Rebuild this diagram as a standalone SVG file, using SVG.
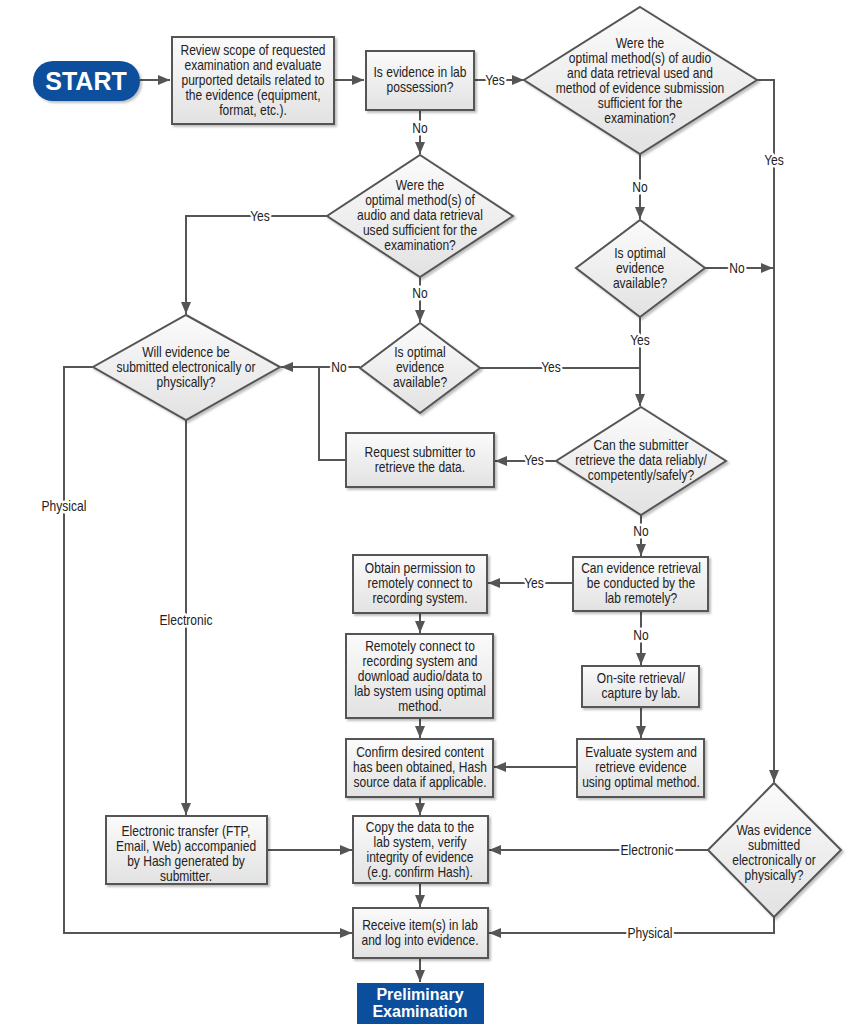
<svg xmlns="http://www.w3.org/2000/svg" width="867" height="1024" viewBox="0 0 867 1024">
<defs>
<linearGradient id="g" x1="0" y1="0" x2="0" y2="1">
<stop offset="0" stop-color="#fbfbfb"/>
<stop offset="1" stop-color="#e2e2e2"/>
</linearGradient>
<filter id="sh" x="-10%" y="-10%" width="130%" height="130%">
<feDropShadow dx="2" dy="2" stdDeviation="1.2" flood-color="#000" flood-opacity="0.25"/>
</filter>
<marker id="ah" viewBox="0 0 12 10" refX="12" refY="5" markerWidth="12" markerHeight="10" orient="auto" markerUnits="userSpaceOnUse">
<path d="M0,0 L12,5 L0,10 z" fill="#555"/>
</marker>
</defs>
<style>
.n{fill:url(#g);stroke:#555;stroke-width:2;filter:url(#sh)}
.t{font-family:"Liberation Sans",Arial,sans-serif;font-size:14px;fill:#222;text-anchor:middle}
.l{font-family:"Liberation Sans",Arial,sans-serif;font-size:14px;fill:#222;text-anchor:middle;stroke:#fff;stroke-width:5;paint-order:stroke;stroke-linejoin:round}
.c{fill:none;stroke:#555;stroke-width:2}
.a{marker-end:url(#ah)}
.b{fill:#0b4f9c;filter:url(#sh)}
.w{font-family:"Liberation Sans",Arial,sans-serif;font-weight:bold;fill:#fff;text-anchor:middle}
</style>
<rect width="867" height="1024" fill="#fff"/>

<g id="connectors">
<path class="c a" d="M140 80 H170"/>
<path class="c a" d="M334 80 H364"/>
<path class="c a" d="M474 80 H524"/>
<path class="c a" d="M420 110 V154"/>
<path class="c a" d="M757 80 H774 V782"/>
<path class="c a" d="M640 154 V219"/>
<path class="c a" d="M705 268 H773"/>
<path class="c a" d="M640 317 V406"/>
<path class="c" d="M480 368 H640"/>
<path class="c a" d="M327 216 H186 V314"/>
<path class="c a" d="M420 277 V322"/>
<path class="c a" d="M360 367 H281"/>
<path class="c" d="M346 460 H319 V367"/>
<path class="c a" d="M556 461 H495"/>
<path class="c a" d="M641 515 V556"/>
<path class="c a" d="M573 583 H488"/>
<path class="c a" d="M641 611 V665"/>
<path class="c a" d="M420 613 V633"/>
<path class="c a" d="M420 718 V738"/>
<path class="c a" d="M641 707 V738"/>
<path class="c a" d="M577 767 H494"/>
<path class="c a" d="M420 797 V815"/>
<path class="c a" d="M186 420 V815"/>
<path class="c a" d="M267 850 H352"/>
<path class="c a" d="M708 850 H489"/>
<path class="c a" d="M420 883 V907"/>
<path class="c a" d="M774 917 V933 H489"/>
<path class="c a" d="M93 367 H64 V933 H352"/>
<path class="c a" d="M420 958 V982"/>
<text class="l" transform="translate(495 0) scale(0.86 1)" x="0" y="85">Yes</text>
<text class="l" transform="translate(420 0) scale(0.86 1)" x="0" y="133">No</text>
<text class="l" transform="translate(774 0) scale(0.86 1)" x="0" y="165">Yes</text>
<text class="l" transform="translate(640 0) scale(0.86 1)" x="0" y="192">No</text>
<text class="l" transform="translate(260 0) scale(0.86 1)" x="0" y="221">Yes</text>
<text class="l" transform="translate(420 0) scale(0.86 1)" x="0" y="298">No</text>
<text class="l" transform="translate(737 0) scale(0.86 1)" x="0" y="273">No</text>
<text class="l" transform="translate(640 0) scale(0.86 1)" x="0" y="345">Yes</text>
<text class="l" transform="translate(339 0) scale(0.86 1)" x="0" y="372">No</text>
<text class="l" transform="translate(551 0) scale(0.86 1)" x="0" y="372">Yes</text>
<text class="l" transform="translate(534 0) scale(0.86 1)" x="0" y="465">Yes</text>
<text class="l" transform="translate(641 0) scale(0.86 1)" x="0" y="536">No</text>
<text class="l" transform="translate(534 0) scale(0.86 1)" x="0" y="588">Yes</text>
<text class="l" transform="translate(641 0) scale(0.86 1)" x="0" y="640">No</text>
<text class="l" transform="translate(64 0) scale(0.86 1)" x="0" y="511">Physical</text>
<text class="l" transform="translate(186 0) scale(0.86 1)" x="0" y="625">Electronic</text>
<text class="l" transform="translate(647 0) scale(0.86 1)" x="0" y="855">Electronic</text>
<text class="l" transform="translate(650 0) scale(0.86 1)" x="0" y="938">Physical</text>
</g>

<g id="start">
<rect class="b" x="33" y="61" width="107" height="40" rx="20"/>
<text class="w" x="86" y="90" font-size="25">START</text>
</g>

<g id="review">
<rect class="n" x="172" y="37" width="162" height="87"/>
<text class="t" transform="translate(253 0) scale(0.86 1)"><tspan x="0" y="55">Review scope of requested</tspan><tspan x="0" y="70">examination and evaluate</tspan><tspan x="0" y="85">purported details related to</tspan><tspan x="0" y="100">the evidence (equipment,</tspan><tspan x="0" y="115">format, etc.).</tspan></text>
</g>

<g id="possession">
<rect class="n" x="366" y="51" width="108" height="59"/>
<text class="t" transform="translate(420 0) scale(0.86 1)"><tspan x="0" y="77">Is evidence in lab</tspan><tspan x="0" y="92">possession?</tspan></text>
</g>

<g id="diamondA">
<polygon class="n" points="640,7 757,80 640,154 524,80"/>
<text class="t" transform="translate(640 0) scale(0.86 1)"><tspan x="0" y="48">Were the</tspan><tspan x="0" y="63">optimal method(s) of audio</tspan><tspan x="0" y="78">and data retrieval used and</tspan><tspan x="0" y="93">method of evidence submission</tspan><tspan x="0" y="108">sufficient for the</tspan><tspan x="0" y="123">examination?</tspan></text>
</g>

<g id="diamondB">
<polygon class="n" points="640,220 705,268 640,317 576,268"/>
<text class="t" transform="translate(640 0) scale(0.86 1)"><tspan x="0" y="258">Is optimal</tspan><tspan x="0" y="273">evidence</tspan><tspan x="0" y="288">available?</tspan></text>
</g>

<g id="diamondC">
<polygon class="n" points="420,155 513,216 420,277 327,216"/>
<text class="t" transform="translate(420 0) scale(0.86 1)"><tspan x="0" y="190">Were the</tspan><tspan x="0" y="205">optimal method(s) of</tspan><tspan x="0" y="220">audio and data retrieval</tspan><tspan x="0" y="235">used sufficient for the</tspan><tspan x="0" y="250">examination?</tspan></text>
</g>

<g id="diamondC2">
<polygon class="n" points="420,323 480,368 420,413 360,368"/>
<text class="t" transform="translate(420 0) scale(0.86 1)"><tspan x="0" y="357">Is optimal</tspan><tspan x="0" y="372">evidence</tspan><tspan x="0" y="387">available?</tspan></text>
</g>

<g id="diamondF">
<polygon class="n" points="186,315 280,367 186,420 93,367"/>
<text class="t" transform="translate(186 0) scale(0.86 1)"><tspan x="0" y="357">Will evidence be</tspan><tspan x="0" y="372">submitted electronically or</tspan><tspan x="0" y="387">physically?</tspan></text>
</g>

<g id="request">
<rect class="n" x="346" y="433" width="148" height="54"/>
<text class="t" transform="translate(420 0) scale(0.86 1)"><tspan x="0" y="457">Request submitter to</tspan><tspan x="0" y="472">retrieve the data.</tspan></text>
</g>

<g id="diamondD">
<polygon class="n" points="641,407 726,461 641,515 556,461"/>
<text class="t" transform="translate(641 0) scale(0.86 1)"><tspan x="0" y="450">Can the submitter</tspan><tspan x="0" y="465">retrieve the data reliably/</tspan><tspan x="0" y="480">competently/safely?</tspan></text>
</g>

<g id="remoteQ">
<rect class="n" x="573" y="557" width="135" height="54"/>
<text class="t" transform="translate(641 0) scale(0.86 1)"><tspan x="0" y="573">Can evidence retrieval</tspan><tspan x="0" y="588">be conducted by the</tspan><tspan x="0" y="603">lab remotely?</tspan></text>
</g>

<g id="obtain">
<rect class="n" x="353" y="555" width="134" height="58"/>
<text class="t" transform="translate(420 0) scale(0.86 1)"><tspan x="0" y="573">Obtain permission to</tspan><tspan x="0" y="588">remotely connect to</tspan><tspan x="0" y="603">recording system.</tspan></text>
</g>

<g id="remotely">
<rect class="n" x="346" y="634" width="147" height="84"/>
<text class="t" transform="translate(420 0) scale(0.86 1)"><tspan x="0" y="651">Remotely connect to</tspan><tspan x="0" y="666">recording system and</tspan><tspan x="0" y="681">download audio/data to</tspan><tspan x="0" y="696">lab system using optimal</tspan><tspan x="0" y="711">method.</tspan></text>
</g>

<g id="onsite">
<rect class="n" x="582" y="666" width="117" height="41"/>
<text class="t" transform="translate(641 0) scale(0.86 1)"><tspan x="0" y="683">On-site retrieval/</tspan><tspan x="0" y="698">capture by lab.</tspan></text>
</g>

<g id="confirm">
<rect class="n" x="346" y="739" width="147" height="58"/>
<text class="t" transform="translate(420 0) scale(0.86 1)"><tspan x="0" y="757">Confirm desired content</tspan><tspan x="0" y="772">has been obtained, Hash</tspan><tspan x="0" y="787">source data if applicable.</tspan></text>
</g>

<g id="evaluate">
<rect class="n" x="577" y="739" width="127" height="58"/>
<text class="t" transform="translate(641 0) scale(0.86 1)"><tspan x="0" y="757">Evaluate system and</tspan><tspan x="0" y="772">retrieve evidence</tspan><tspan x="0" y="787">using optimal method.</tspan></text>
</g>

<g id="etransfer">
<rect class="n" x="106" y="816" width="161" height="68"/>
<text class="t" transform="translate(186 0) scale(0.86 1)"><tspan x="0" y="836">Electronic transfer (FTP,</tspan><tspan x="0" y="851">Email, Web) accompanied</tspan><tspan x="0" y="866">by Hash generated by</tspan><tspan x="0" y="881">submitter.</tspan></text>
</g>

<g id="copy">
<rect class="n" x="353" y="816" width="135" height="67"/>
<text class="t" transform="translate(420 0) scale(0.86 1)"><tspan x="0" y="832">Copy the data to the</tspan><tspan x="0" y="847">lab system, verify</tspan><tspan x="0" y="862">integrity of evidence</tspan><tspan x="0" y="877">(e.g. confirm Hash).</tspan></text>
</g>

<g id="diamondE">
<polygon class="n" points="774,783 841,850 774,917 708,850"/>
<text class="t" transform="translate(774 0) scale(0.86 1)"><tspan x="0" y="835">Was evidence</tspan><tspan x="0" y="850">submitted</tspan><tspan x="0" y="865">electronically or</tspan><tspan x="0" y="880">physically?</tspan></text>
</g>

<g id="receive">
<rect class="n" x="353" y="908" width="135" height="50"/>
<text class="t" transform="translate(420 0) scale(0.86 1)"><tspan x="0" y="930">Receive item(s) in lab</tspan><tspan x="0" y="945">and log into evidence.</tspan></text>
</g>

<g id="preliminary">
<rect x="357" y="983" width="127" height="41" fill="#0b4f9c"/>
<text class="w" font-size="16"><tspan x="420" y="1000">Preliminary</tspan><tspan x="420" y="1017">Examination</tspan></text>
</g>
</svg>
